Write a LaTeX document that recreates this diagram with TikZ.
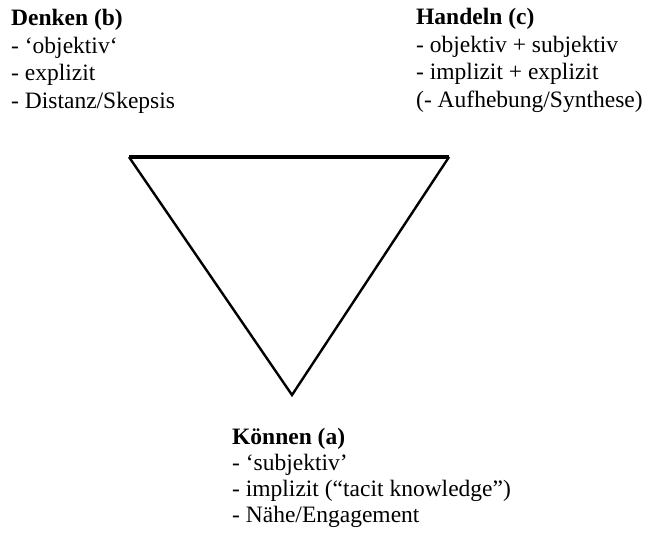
\documentclass[tikz,border=0pt]{standalone}
\usepackage{fontspec}
\setmainfont{Liberation Serif}
\tikzset{
	block/.style = {align=left, inner sep=0pt, anchor=north west, font={\fontsize{23.5}{27.5}\selectfont}},
	side/.style = {line width=2.4pt, line join=miter}
}
\begin{document}
\begin{tikzpicture}[x=1pt,y=-1pt]
	\useasboundingbox (0,0) rectangle (649,539);
	% corners of the triangle
	\coordinate (b) at (129,157);
	\coordinate (c) at (449,157);
	\coordinate (a) at (292,395);
	\draw [side] (b) -- (a) -- (c);
	\draw [line width=3.4pt] (b) -- (c);
	% the three poles
	\node [block] (denken) at (11,9) {\textbf{Denken (b)}\\- ‘objektiv‘\\- explizit\\- Distanz/Skepsis};
	\node [block] (handeln) at (416,8) {\textbf{Handeln (c)}\\- objektiv + subjektiv\\- implizit + explizit\\(- Aufhebung/Synthese)};
	\node [block, font={\fontsize{23.5}{26}\selectfont}] (koennen) at (232,428) {\textbf{Können (a)}\\- ‘subjektiv’\\- implizit (“tacit knowledge”)\\- Nähe/Engagement};
\end{tikzpicture}
\end{document}
